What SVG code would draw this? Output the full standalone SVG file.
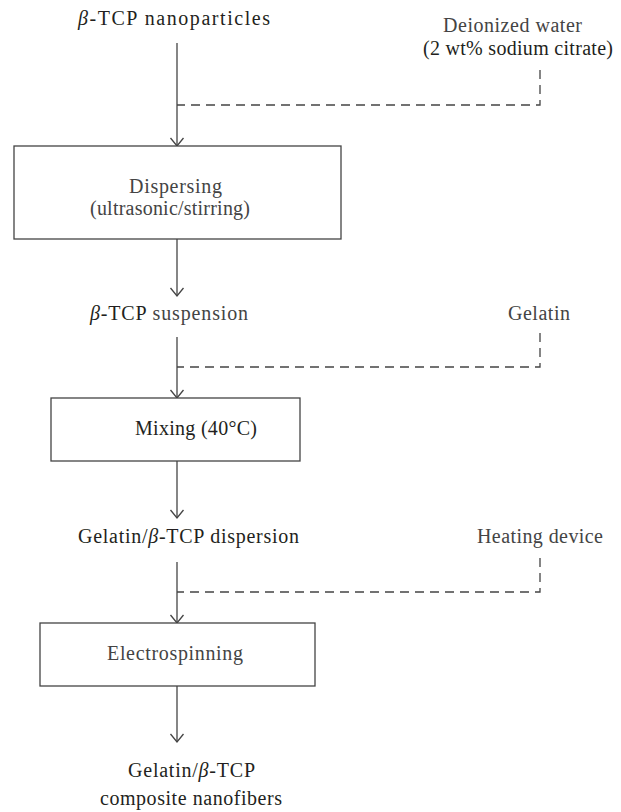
<svg xmlns="http://www.w3.org/2000/svg" width="621" height="812" viewBox="0 0 621 812">
<defs>
<style>
text { font-family: "Liberation Serif", "Times New Roman", serif; font-size: 20px; }
.dk { fill: #231f20; }
.gr { fill: #444444; }
.b { font-style: italic; }
.box { fill: #ffffff; stroke: #444444; stroke-width: 1.3; }
.ln { fill: none; stroke: #444444; stroke-width: 1.3; }
.dash { fill: none; stroke: #444444; stroke-width: 1.3; stroke-dasharray: 9 6; }
</style>
</defs>
<rect width="621" height="812" fill="#ffffff"/>

<g id="connectors">
<line class="ln" x1="177" y1="43" x2="177" y2="146"/>
<path class="dash" d="M540,70 L540,105 L177,105"/>
<line class="ln" x1="177" y1="239" x2="177" y2="296"/>
<line class="ln" x1="177" y1="337" x2="177" y2="398"/>
<path class="dash" d="M540,333 L540,367 L177,367"/>
<line class="ln" x1="177" y1="461" x2="177" y2="518"/>
<line class="ln" x1="177" y1="562" x2="177" y2="623"/>
<path class="dash" d="M540,558 L540,592 L177,592"/>
<line class="ln" x1="177" y1="686" x2="177" y2="742"/>
<path class="ln" d="M170.5,138 L177,146 L183.5,138"/>
<path class="ln" d="M170.5,288 L177,296 L183.5,288"/>
<path class="ln" d="M170.5,390 L177,398 L183.5,390"/>
<path class="ln" d="M170.5,510 L177,518 L183.5,510"/>
<path class="ln" d="M170.5,615 L177,623 L183.5,615"/>
<path class="ln" d="M170.5,734 L177,742 L183.5,734"/>
</g>

<g id="n-nanoparticles">
<text class="dk" x="78" y="25" textLength="192" lengthAdjust="spacing"><tspan class="b">β</tspan>-TCP nanoparticles</text>
</g>
<g id="n-water">
<text class="gr" x="443" y="32" textLength="139" lengthAdjust="spacing">Deionized water</text>
<text class="dk" x="423" y="55" textLength="190" lengthAdjust="spacing">(2 wt% sodium citrate)</text>
</g>
<g id="n-dispersing">
<rect class="box" x="14" y="146" width="327" height="93"/>
<text class="gr" x="129" y="193" textLength="93" lengthAdjust="spacing">Dispersing</text>
<text class="gr" x="90" y="215" textLength="160" lengthAdjust="spacing">(ultrasonic/stirring)</text>
</g>
<g id="n-suspension">
<text class="dk" x="90" y="320" textLength="158" lengthAdjust="spacing"><tspan class="b">β</tspan>-TCP <tspan class="gr">suspension</tspan></text>
</g>
<g id="n-gelatin">
<text class="gr" x="508" y="320" textLength="62" lengthAdjust="spacing">Gelatin</text>
</g>
<g id="n-mixing">
<rect class="box" x="51" y="398" width="249" height="63"/>
<text class="dk" x="135" y="435" textLength="122" lengthAdjust="spacing">Mixing (40°C)</text>
</g>
<g id="n-dispersion">
<text class="dk" x="78" y="543" textLength="221" lengthAdjust="spacing">Gelatin/<tspan class="b">β</tspan>-TCP dispersion</text>
</g>
<g id="n-heating">
<text class="gr" x="477" y="543" textLength="126" lengthAdjust="spacing">Heating device</text>
</g>
<g id="n-electrospinning">
<rect class="box" x="40" y="623" width="275" height="63"/>
<text class="gr" x="107" y="660" textLength="136" lengthAdjust="spacing">Electrospinning</text>
</g>
<g id="n-nanofibers">
<text class="dk" x="128" y="777" textLength="127" lengthAdjust="spacing">Gelatin/<tspan class="b">β</tspan>-TCP</text>
<text class="dk" x="100" y="805" textLength="182" lengthAdjust="spacing">composite nanofibers</text>
</g>
</svg>
